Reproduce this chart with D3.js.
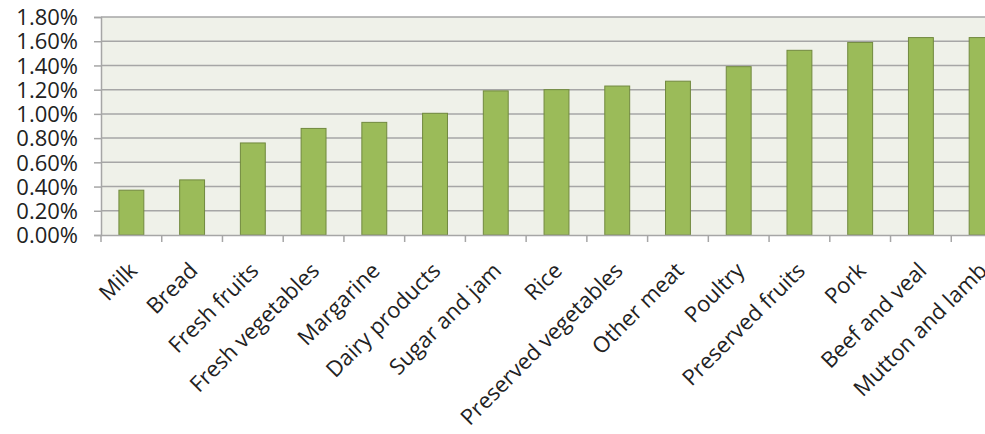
<!DOCTYPE html>
<html><head><meta charset="utf-8">
<script src="https://cdn.jsdelivr.net/npm/d3@7"></script>
<style>html,body{margin:0;padding:0;background:#fff;overflow:hidden}</style>
</head><body>
<svg id="c" width="985" height="434"></svg>
<script>
const categories = ["Milk","Bread","Fresh fruits","Fresh vegetables","Margarine","Dairy products","Sugar and jam","Rice","Preserved vegetables","Other meat","Poultry","Preserved fruits","Pork","Beef and veal","Mutton and lamb"];
const values = [0.0037,0.00455,0.0076,0.0088,0.0093,0.01005,0.0119,0.0120,0.0123,0.0127,0.0139,0.01525,0.0159,0.0163,0.0163];
const yTicks = [0,0.002,0.004,0.006,0.008,0.010,0.012,0.014,0.016,0.018];

const svg = d3.select("#c");
const pL = 101, pR = 1012, pT = 17, pB = 235;
const x = d3.scaleBand().domain(categories).range([pL, pR]).paddingInner(0.59).paddingOuter(0.295);
const xb = d3.scaleBand().domain(categories).range([pL, pR]);
const y = d3.scaleLinear().domain([0, 0.018]).range([pB, pT]);
const font = "'Open Sans', sans-serif";

svg.append("rect").attr("x", pL).attr("y", pT).attr("width", pR-pL).attr("height", pB-pT).attr("fill", "#EFF1E9");

// gridlines
svg.append("g").selectAll("line").data(yTicks.slice(1)).join("line")
  .attr("x1", pL).attr("x2", pR).attr("y1", d => y(d)).attr("y2", d => y(d))
  .attr("stroke", "#A6A6A6").attr("stroke-width", 1.5);

// y axis
const ya = svg.append("g").attr("transform", `translate(${pL},0)`)
  .call(d3.axisLeft(y).tickValues(yTicks).tickFormat(d3.format(".2%")).tickSize(7).tickPadding(16));
ya.select(".domain").attr("stroke", "#A6A6A6").attr("stroke-width", 1.5);
ya.selectAll(".tick line").attr("stroke", "#A6A6A6").attr("stroke-width", 1.5);
ya.selectAll("text").attr("font-family", font).attr("font-size", 22).attr("fill", "#222").attr("dy", "0.35em");

// bars
svg.append("g").selectAll("rect").data(values).join("rect")
  .attr("x", (d,i) => x(categories[i])).attr("width", x.bandwidth())
  .attr("y", d => y(d)).attr("height", d => y(0) - y(d))
  .attr("fill", "#9BBB59").attr("stroke", "#71893F").attr("stroke-width", 1);

// x axis
const xa = svg.append("g").attr("transform", `translate(0,${pB})`)
  .call(d3.axisBottom(xb).tickSize(0).tickFormat(d => d));
xa.select(".domain").attr("stroke", "#A6A6A6").attr("stroke-width", 1.5);
svg.append("g").selectAll("line").data(categories).join("line")
  .attr("x1", d => xb(d)).attr("x2", d => xb(d)).attr("y1", pB).attr("y2", pB + 7)
  .attr("stroke", "#A6A6A6").attr("stroke-width", 1.5);
xa.selectAll("text")
  .attr("font-family", font).attr("font-size", 22).attr("fill", "#222")
  .attr("text-anchor", "end").attr("dy", 0).attr("y", 0)
  .attr("transform", "translate(7,37) rotate(-45)");
</script>
</body></html>
